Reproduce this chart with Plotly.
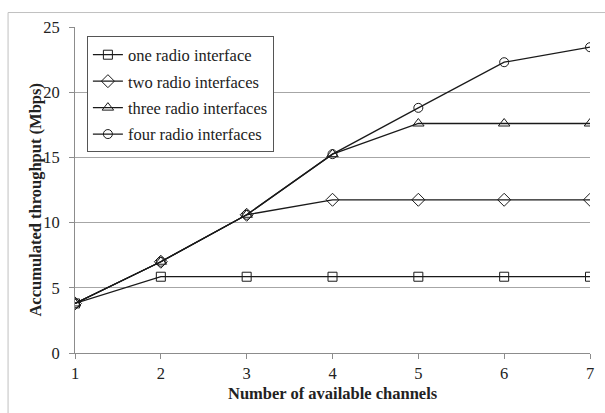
import plotly.graph_objects as go

# Throughput versus number of channels, one series per radio-interface count
channels = [1, 2, 3, 4, 5, 6, 7]
one_radio = [3.8, 5.85, 5.85, 5.85, 5.85, 5.85, 5.85]
two_radio = [3.8, 7.0, 10.6, 11.75, 11.75, 11.75, 11.75]
three_radio = [3.8, 7.0, 10.6, 15.25, 17.6, 17.6, 17.6]
four_radio = [3.8, 7.0, 10.6, 15.25, 18.8, 22.3, 23.45]

series_names = ["one radio interface", "two radio interfaces",
                "three radio interfaces", "four radio interfaces"]
series_values = [one_radio, two_radio, three_radio, four_radio]
symbols = ["square-open", "diamond-open", "triangle-up-open", "circle-open"]
sizes = [9, 10, 10, 9]

y_ticks = [0, 5, 10, 15, 20, 25]

FONT = "Liberation Serif, Times New Roman, serif"
TEXT = "#222222"

fig = go.Figure()
for name, vals, sym, sz in zip(series_names, series_values, symbols, sizes):
    fig.add_trace(go.Scatter(
        x=channels, y=vals, name=name, mode="lines+markers",
        legendgroup=name,
        line=dict(color="#1a1a1a", width=1.3),
        marker=dict(symbol=sym, size=sz, color="#1a1a1a",
                    line=dict(width=1, color="#1a1a1a")),
    ))

L, R, T, B = 75, 10.7, 26.5, 60
W, H = 605, 413
pw, ph = W - L - R, H - T - B

def px_to_paper_x(px):
    return (px - L) / pw

def px_to_paper_y(py):
    return (H - B - py) / ph

fig.update_layout(
    width=W, height=H,
    margin=dict(l=L, r=R, t=T, b=B, pad=0),
    paper_bgcolor="white", plot_bgcolor="white",
    font=dict(family=FONT, size=16.5, color=TEXT),
    showlegend=True,
    legend=dict(
        x=px_to_paper_x(87), y=px_to_paper_y(36),
        xanchor="left", yanchor="top",
        bgcolor="white", bordercolor="#555", borderwidth=1,
        font=dict(family=FONT, size=16.5, color=TEXT),
        itemwidth=30, tracegroupgap=2,
    ),
    xaxis=dict(
        range=[1, 7], tickvals=channels, showgrid=False,
        showline=True, linecolor="#8c8c8c", linewidth=1,
        ticks="outside", ticklen=5, tickcolor="#8c8c8c",
        zeroline=False, tickfont=dict(size=16.5, family=FONT, color=TEXT),
    ),
    yaxis=dict(
        range=[0, 25], tickvals=y_ticks, showgrid=True,
        gridcolor="#a6a6a6", gridwidth=1,
        showline=True, linecolor="#8c8c8c", linewidth=1,
        ticks="outside", ticklen=5, tickcolor="#8c8c8c",
        ticklabelstandoff=6,
        zeroline=False, tickfont=dict(size=16.5, family=FONT, color=TEXT),
    ),
    shapes=[dict(
        type="rect", xref="paper", yref="paper",
        x0=px_to_paper_x(7.5), x1=px_to_paper_x(640),
        y0=px_to_paper_y(450), y1=px_to_paper_y(12),
        line=dict(color="#c0c0c0", width=1), fillcolor="rgba(0,0,0,0)",
        layer="below",
    )],
    annotations=[
        dict(text="<b>Number of available channels</b>",
             xref="paper", yref="paper",
             x=0.5, y=px_to_paper_y(394),
             xanchor="center", yanchor="middle", showarrow=False,
             font=dict(family=FONT, size=16.5, color=TEXT)),
        dict(text="<b>Accumulated throughput (Mbps)</b>",
             xref="paper", yref="paper",
             x=px_to_paper_x(35), y=px_to_paper_y(200),
             xanchor="center", yanchor="middle", showarrow=False,
             textangle=-90,
             font=dict(family=FONT, size=16.5, color=TEXT)),
    ],
)

fig.write_html("out.html")
